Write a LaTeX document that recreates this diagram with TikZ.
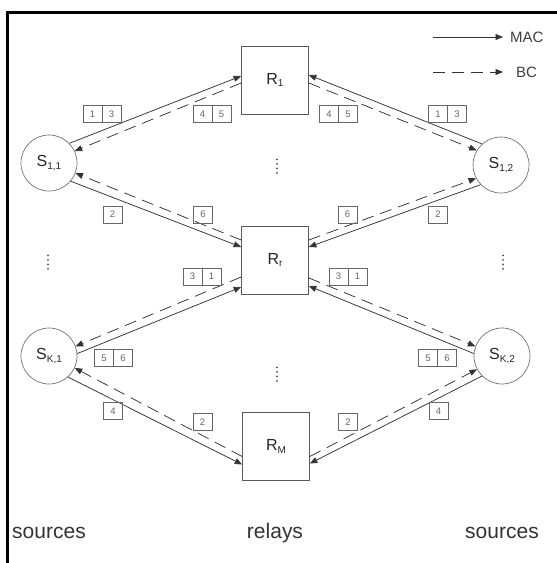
\documentclass[tikz,border=0pt]{standalone}
\usepackage{fontspec}
\setmainfont{Liberation Sans}
\usetikzlibrary{arrows.meta,calc}
% small lowered index for node names
\newcommand\idx[1]{\raisebox{-0.35ex}{\fontsize{10}{10}\selectfont #1}}
\begin{document}
\begin{tikzpicture}[x=1pt,y=-1pt,
  relay/.style={draw=black!65, line width=0.7pt, minimum width=67pt, minimum height=68pt,
    inner sep=0pt, font=\fontsize{16}{18}\selectfont, text=black!85},
  src/.style={circle, draw=black!55, line width=0.7pt, minimum size=56pt, inner sep=0pt,
    font=\fontsize{16}{18}\selectfont, text=black!85},
  mac/.style={draw=black!80, line width=0.75pt, -{Triangle[length=7.5pt,width=6pt]}},
  bc/.style={mac, dash pattern=on 12pt off 7pt},
  cell/.style={draw=black!60, line width=0.5pt, minimum width=19pt, minimum height=17pt,
    inner sep=0pt, font=\fontsize{9.5}{10}\selectfont, text=black!60},
  caption/.style={font=\fontsize{21}{24}\selectfont, text=black!80},
  legendtext/.style={font=\fontsize{15}{17}\selectfont, text=black!75, anchor=west, inner sep=0pt},
]
\useasboundingbox (0,0) rectangle (557,563);
\fill[white] (0,0) rectangle (557,563);

% frame (top and left edges)
\draw[line width=3pt] (7,563) -- (7,12) -- (557,12);

% relays
\node[relay] (R1) at (275,80)  {R\idx{1}};
\node[relay] (Rr) at (275,260) {R\idx{r}};
\node[relay] (RM) at (276,446.5) {R\idx{M}};

% sources
\node[src] (S11) at (49,163)  {S\idx{1,1}};
\node[src] (S12) at (501,165) {S\idx{1,2}};
\node[src] (SK1) at (49,356)  {S\idx{K,1}};
\node[src] (SK2) at (502,356) {S\idx{K,2}};

% left-hand links
\draw[mac] (S11.44) -- ([yshift=4pt]R1.west);
\draw[bc]  ([yshift=-3pt]R1.west) -- (S11.25);
\draw[bc]  ([yshift=20pt]Rr.west) -- (S11.-21);
\draw[mac] (S11.-40) -- ([yshift=13pt]Rr.west);
\draw[bc]  ([yshift=-17pt]Rr.west) -- (SK1.20);
\draw[mac] (SK1.5) -- ([yshift=-27pt]Rr.west);
\draw[bc]  ([yshift=-10pt]RM.west) -- (SK1.-25);
\draw[mac] (SK1.-48) -- ([yshift=-18pt]RM.west);

% right-hand links
\draw[mac] (S12.132) -- ([yshift=5pt]R1.east);
\draw[bc]  ([yshift=-3pt]R1.east) -- (S12.149);
\draw[bc]  ([yshift=20pt]Rr.east) -- (S12.208);
\draw[mac] (S12.224) -- ([yshift=13pt]Rr.east);
\draw[bc]  ([yshift=-18pt]Rr.east) -- (SK2.160);
\draw[mac] (SK2.175) -- ([yshift=-26pt]Rr.east);
\draw[bc]  ([yshift=-10pt]RM.east) -- (SK2.208);
\draw[mac] (SK2.225) -- ([yshift=-17pt]RM.east);

% slot labels
\node[cell] (a1) at (92.5,114) {1};  \node[cell] (a2) at (111.5,114) {3};
\node[cell] (b1) at (202.5,114) {4}; \node[cell] (b2) at (221.5,114) {5};
\node[cell] (c1) at (329,114) {4};   \node[cell] (c2) at (348,114) {5};
\node[cell] (d1) at (438,114) {1};   \node[cell] (d2) at (457,114) {3};
\node[cell] (e1) at (112.5,214.5) {2};
\node[cell] (f1) at (203,214.5) {6};
\node[cell] (g1) at (347.5,214.5) {6};
\node[cell] (h1) at (438,214.5) {2};
\node[cell] (i1) at (192.5,276.5) {3}; \node[cell] (i2) at (211.5,276.5) {1};
\node[cell] (j1) at (338.5,276.5) {3}; \node[cell] (j2) at (357.5,276.5) {1};
\node[cell] (k1) at (104,358) {5};   \node[cell] (k2) at (123,358) {6};
\node[cell] (l1) at (428,358) {5};   \node[cell] (l2) at (447,358) {6};
\node[cell] (m1) at (113,411) {4};
\node[cell] (n1) at (202.5,422) {2};
\node[cell] (o1) at (348,422) {2};
\node[cell] (p1) at (438.5,411) {4};

% vertical ellipses
\foreach \px/\py in {277/166, 277/374, 48/262, 503/262}
  \foreach \k in {-1.5,-0.5,0.5,1.5}
    \fill[black!70] (\px,\py+\k*4.5) circle (1pt);

% legend
\coordinate (macA) at (433,37);
\coordinate (macB) at (503,37);
\draw[mac] (macA) -- (macB);
\node[legendtext] (macT) at (510,37) {MAC};
\coordinate (bcA) at (433,72);
\coordinate (bcB) at (503,72);
\draw[bc] (bcA) -- (bcB);
\node[legendtext] (bcT) at (516,72) {BC};

% column captions
\node[caption] (capL) at (49,533) {sources};
\node[caption] (capM) at (275,533) {relays};
\node[caption] (capR) at (502,533) {sources};
\end{tikzpicture}
\end{document}
